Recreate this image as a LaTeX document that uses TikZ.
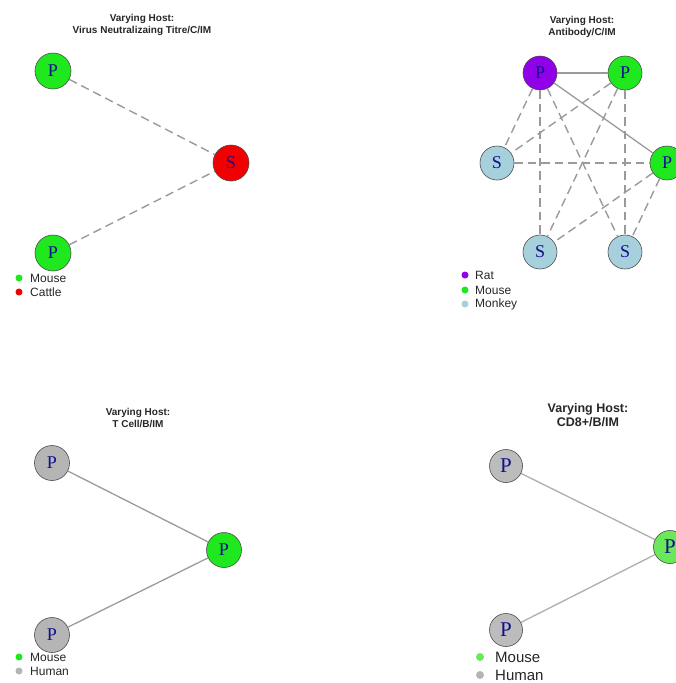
\documentclass[tikz,border=0pt]{standalone}
\usepackage{fontspec}
\setmainfont{Liberation Sans}
\newfontfamily\nodefont{Liberation Serif}
\definecolor{ratc}{HTML}{9000E8}
\definecolor{mousec}{HTML}{1FE81F}
\definecolor{mousel}{HTML}{6BE85A}
\definecolor{monkeyc}{HTML}{A7D0DD}
\definecolor{cattlec}{HTML}{F00000}
\definecolor{humanc}{HTML}{B5B5B5}
\definecolor{edgec}{HTML}{9A9A9A}
\definecolor{labc}{HTML}{10108A}
\tikzset{
  vnode/.style={circle, draw=black!70, line width=0.6pt, minimum size=#1, inner sep=0pt,
    text=labc, font=\nodefont\fontsize{18}{18}\selectfont},
  vnode/.default=36pt,
  bignode/.style={vnode=33pt, font=\nodefont\fontsize{21}{21}\selectfont},
  solidedge/.style={draw=edgec, line width=1.3pt},
  dashedge/.style={draw=edgec, line width=1.4pt, dash pattern=on 8.5pt off 5pt},
  ptitle/.style={align=center, font=\bfseries\fontsize{10}{11.5}\selectfont, text=black!85},
  legdot/.style={circle, inner sep=0pt, minimum size=#1},
  legdot/.default=7pt,
  legtext/.style={anchor=west, inner sep=0pt, font=\fontsize{12}{12}\selectfont, text=black!85},
}
\begin{document}
\begin{tikzpicture}[x=1pt,y=-1pt]
\useasboundingbox (0,0) rectangle (676,683);
% ---------- Panel 1 ----------
\node[ptitle] (t1) at (142,25) {Varying Host:\\Virus Neutralizaing Titre/C/IM};
\node[vnode, fill=mousec] (a1) at (53,71) {P};
\node[vnode, fill=mousec] (a2) at (53,253) {P};
\node[vnode, fill=cattlec] (a3) at (231,163) {S};
\draw[dashedge] (a1) -- (a3);
\draw[dashedge] (a2) -- (a3);
\node[legdot, fill=mousec] (l1a) at (19,278) {};
\node[legdot, fill=cattlec] (l1b) at (19,292) {};
\node[legtext] (l1at) at (30,278) {Mouse};
\node[legtext] (l1bt) at (30,292) {Cattle};
% ---------- Panel 2 ----------
\node[ptitle] (t2) at (582,27) {Varying Host:\\Antibody/C/IM};
\node[vnode=34pt, fill=ratc] (b1) at (540,73) {P};
\node[vnode=34pt, fill=mousec] (b2) at (625,73) {P};
\node[vnode=34pt, fill=mousec] (b3) at (667,163) {P};
\node[vnode=34pt, fill=monkeyc] (b4) at (497,163) {S};
\node[vnode=34pt, fill=monkeyc] (b5) at (540,252) {S};
\node[vnode=34pt, fill=monkeyc] (b6) at (625,252) {S};
\draw[solidedge] (b1) -- (b2);
\draw[solidedge] (b1) -- (b3);
\draw[dashedge] (b1) -- (b4);
\draw[dashedge] (b1) -- (b5);
\draw[dashedge] (b1) -- (b6);
\draw[dashedge] (b2) -- (b4);
\draw[dashedge] (b2) -- (b5);
\draw[dashedge] (b2) -- (b6);
\draw[dashedge] (b4) -- (b3);
\draw[dashedge] (b3) -- (b5);
\draw[dashedge] (b3) -- (b6);
\node[legdot, fill=ratc] (l2a) at (465,275) {};
\node[legdot, fill=mousec] (l2b) at (465,290) {};
\node[legdot, fill=monkeyc] (l2c) at (465,304) {};
\node[legtext] (l2at) at (475,275) {Rat};
\node[legtext] (l2bt) at (475,290) {Mouse};
\node[legtext] (l2ct) at (475,304) {Monkey};
% ---------- Panel 3 ----------
\node[ptitle] (t3) at (138,418) {Varying Host:\\T Cell/B/IM};
\node[vnode=35pt, fill=humanc] (c1) at (52,463) {P};
\node[vnode=35pt, fill=humanc] (c2) at (52,635) {P};
\node[vnode=35pt, fill=mousec] (c3) at (224,550) {P};
\draw[solidedge] (c1) -- (c3);
\draw[solidedge] (c2) -- (c3);
\node[legdot, fill=mousec] (l3a) at (19,657) {};
\node[legdot, fill=humanc] (l3b) at (19,671) {};
\node[legtext] (l3at) at (30,657) {Mouse};
\node[legtext] (l3bt) at (30,671) {Human};
% ---------- Panel 4 ----------
\node[ptitle, font=\bfseries\fontsize{12.5}{14.5}\selectfont] (t4) at (588,415) {Varying Host:\\CD8+/B/IM};
\node[bignode, fill=humanc!90] (d1) at (506,466) {P};
\node[bignode, fill=humanc!90] (d2) at (506,630) {P};
\node[bignode, fill=mousel] (d3) at (670,547) {P};
\draw[solidedge, draw=edgec!80] (d1) -- (d3);
\draw[solidedge, draw=edgec!80] (d2) -- (d3);
\node[legdot=8pt, fill=mousel] (l4a) at (480,657) {};
\node[legdot=8pt, fill=humanc] (l4b) at (480,675) {};
\node[legtext, font=\fontsize{15}{15}\selectfont] (l4at) at (495,657) {Mouse};
\node[legtext, font=\fontsize{15}{15}\selectfont] (l4bt) at (495,675) {Human};
\end{tikzpicture}
\end{document}
